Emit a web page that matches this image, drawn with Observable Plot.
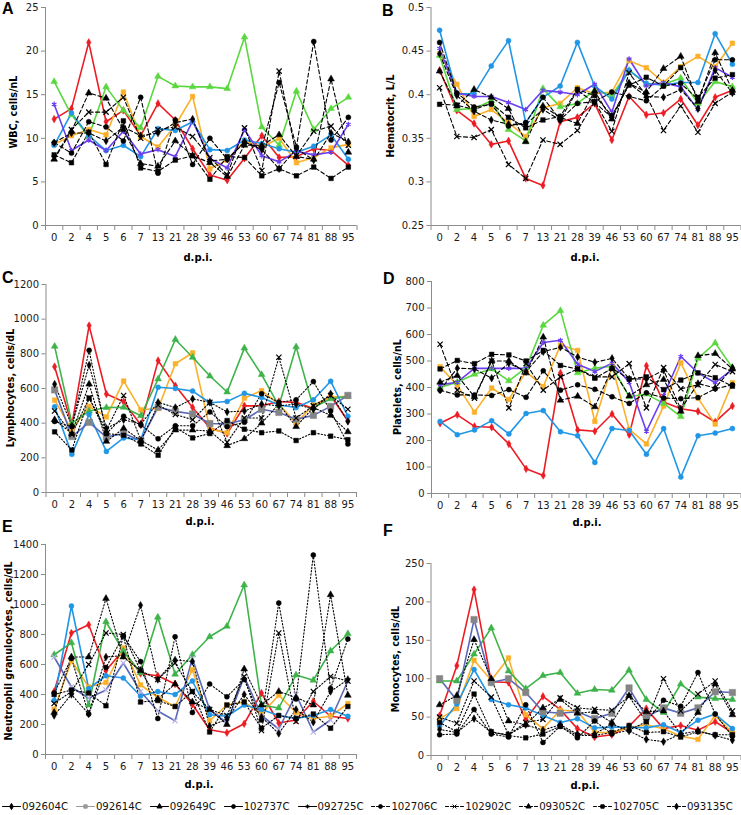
<!DOCTYPE html>
<html><head><meta charset="utf-8">
<script src="https://cdn.jsdelivr.net/npm/d3@7"></script>
<script src="https://cdn.jsdelivr.net/npm/@observablehq/plot@0.6"></script>
<style>
body{margin:0;background:#fff;}
#root{position:relative;width:741px;height:815px;overflow:hidden;background:#fff;font-family:"DejaVu Sans",Verdana,sans-serif;}
.panel{position:absolute;}
.letter{position:absolute;font:bold 16px "Liberation Sans",Arial,sans-serif;line-height:1;color:#000;}
.ytitle{position:absolute;font:bold 9.6px "DejaVu Sans",Verdana,sans-serif;white-space:nowrap;transform:translate(-50%,-50%) rotate(-90deg);color:#000;}
.xtitle{position:absolute;font:bold 10px "DejaVu Sans",Verdana,sans-serif;white-space:nowrap;transform:translate(-50%,-50%);color:#000;}
#legend{position:absolute;left:2px;width:731px;top:797px;height:18px;display:flex;justify-content:space-between;align-items:center;font:10.2px "DejaVu Sans",Verdana,sans-serif;color:#111;}
#legend .item{display:flex;align-items:center;}
</style>
</head><body>
<div id="root"></div>
<script>
// ---- categories ----
const days = ["0","2","4","5","6","7","13","21","28","39","46","53","60","67","74","81","88","95"];
const animals = ["092604C","092614C","092649C","102737C","092725C","102706C","102902C","093052C","102705C","093135C"];

// ---- A: WBC, cells/nL (rows in order of animals) ----
const wbc = [
  [12.2,13.4,21.0,11.9,13.2,10.3,14.0,12.1,8.8,5.8,5.2,7.7,10.3,7.8,7.9,8.8,8.6,6.9],
  [9.3,10.3,11.0,10.4,15.3,10.2,9.0,11.5,14.8,6.5,7.5,9.7,9.0,10.0,7.2,7.8,8.9,9.3],
  [16.5,12.7,10.2,15.9,13.2,11.2,17.1,16.0,15.9,15.9,15.7,21.6,11.3,9.2,15.4,11.0,13.4,14.7],
  [9.2,12.9,10.3,8.6,9.2,7.9,11.1,10.9,11.9,8.7,8.6,9.8,9.4,8.8,8.4,9.1,10.4,7.6],
  [13.9,8.6,9.8,8.6,10.8,8.2,8.7,7.9,12.0,7.7,6.6,11.0,8.0,7.3,8.5,8.1,8.4,11.6],
  [9.5,8.3,11.9,11.3,9.7,14.7,6.0,12.1,7.0,10.0,7.6,9.5,8.9,16.4,9.0,21.1,9.8,12.4],
  [7.7,11.0,13.0,13.0,14.7,10.0,11.0,11.3,10.2,7.8,5.8,11.2,6.3,17.7,8.0,10.8,11.4,9.2],
  [7.6,10.8,15.2,14.6,11.0,7.1,6.8,9.7,8.0,7.2,5.6,9.2,9.2,10.4,7.9,7.6,16.8,8.4],
  [8.1,7.2,10.7,7.0,12.0,6.6,6.2,7.5,8.0,5.3,7.9,7.8,5.7,6.5,5.7,6.7,5.4,6.7],
  [9.5,10.6,10.6,9.7,11.3,10.3,10.6,11.8,12.2,7.4,7.6,9.6,8.7,6.5,8.8,7.5,10.6,9.6]
];
// ---- B: Hematocrit, L/L ----
const hct = [
  [0.428,0.382,0.367,0.343,0.347,0.304,0.296,0.369,0.374,0.39,0.348,0.398,0.377,0.379,0.395,0.365,0.397,0.405],
  [0.447,0.412,0.375,0.383,0.368,0.352,0.385,0.39,0.408,0.401,0.403,0.439,0.431,0.414,0.432,0.444,0.432,0.459],
  [0.445,0.383,0.384,0.393,0.36,0.347,0.407,0.386,0.39,0.405,0.399,0.428,0.412,0.412,0.419,0.39,0.415,0.409],
  [0.474,0.401,0.401,0.433,0.462,0.368,0.397,0.41,0.46,0.41,0.395,0.428,0.413,0.411,0.414,0.414,0.47,0.435],
  [0.453,0.402,0.398,0.398,0.391,0.383,0.405,0.403,0.4,0.412,0.38,0.441,0.41,0.414,0.409,0.383,0.431,0.42],
  [0.46,0.402,0.386,0.389,0.364,0.368,0.397,0.371,0.39,0.392,0.403,0.398,0.393,0.41,0.413,0.395,0.44,0.44],
  [0.408,0.352,0.351,0.36,0.32,0.304,0.348,0.343,0.359,0.392,0.358,0.425,0.399,0.359,0.387,0.357,0.39,0.403],
  [0.427,0.387,0.406,0.397,0.384,0.346,0.387,0.374,0.367,0.404,0.372,0.413,0.403,0.43,0.444,0.392,0.448,0.405],
  [0.389,0.388,0.383,0.39,0.374,0.362,0.371,0.375,0.406,0.399,0.376,0.411,0.42,0.41,0.431,0.397,0.419,0.423],
  [0.447,0.399,0.381,0.371,0.366,0.366,0.383,0.371,0.405,0.391,0.374,0.413,0.398,0.397,0.406,0.384,0.428,0.402]
];
// ---- C: Lymphocytes, cells/dL ----
const lym = [
  [726,390,963,568,524,389,761,616,491,372,340,500,500,525,520,485,558,414],
  [533,360,497,436,643,477,485,743,806,367,345,545,588,510,400,505,550,555],
  [843,400,470,490,492,443,655,883,780,672,580,833,680,500,840,490,540,555],
  [495,220,450,237,315,305,607,600,585,518,525,572,548,505,490,535,642,440],
  [592,323,405,320,340,300,492,468,453,398,396,420,480,462,423,445,497,560],
  [410,380,820,340,440,390,310,385,385,465,380,405,570,520,535,640,470,280],
  [470,335,545,360,560,300,505,450,420,520,290,430,430,780,430,500,560,480],
  [420,340,625,295,370,300,245,360,360,355,270,310,400,510,380,490,445,350],
  [350,245,545,340,330,280,215,375,315,340,415,365,345,355,300,345,325,305],
  [625,385,735,370,420,395,520,490,540,520,465,470,510,500,510,480,570,410]
];
// ---- D: Platelets, cells/nL ----
const plt = [
  [265,297,253,250,187,93,68,455,240,235,300,222,482,345,320,310,270,330],
  [478,408,307,398,355,460,403,560,540,272,482,242,187,330,493,360,262,418],
  [400,420,450,470,425,475,635,690,455,473,480,365,375,340,290,510,568,475],
  [272,222,240,275,225,302,313,233,218,117,245,238,148,245,62,218,228,245],
  [410,420,472,472,472,472,570,578,488,460,492,420,235,370,517,455,418,468],
  [390,372,372,370,392,363,463,390,410,393,365,340,380,360,358,362,395,410],
  [563,390,360,500,323,490,390,440,470,440,440,490,323,475,395,410,487,460],
  [420,445,365,500,500,455,590,352,367,327,472,368,410,430,310,520,528,470],
  [470,502,490,525,523,500,540,483,470,435,472,432,440,392,428,455,437,405],
  [390,473,470,435,492,460,535,552,515,495,510,432,432,465,318,415,398,475]
];
// ---- E: Neutrophil granulocytes, cells/dL ----
const neu = [
  [420,810,865,560,695,540,525,470,335,165,145,205,410,210,230,355,255,240],
  [300,625,450,480,710,465,380,320,565,225,330,350,270,395,280,240,255,340],
  [665,745,330,885,690,545,915,535,665,785,855,1130,330,310,530,495,690,805],
  [360,990,440,525,510,390,420,400,490,265,255,330,300,260,240,260,300,255],
  [650,450,375,430,610,420,290,225,640,300,210,520,260,170,400,150,230,490],
  [410,640,270,580,790,620,240,785,280,470,385,500,230,1010,370,1330,440,770],
  [340,420,600,810,800,560,500,610,420,300,260,520,160,810,220,420,520,490],
  [280,650,650,1040,650,560,370,470,350,300,200,570,330,420,380,330,1065,395],
  [400,430,410,325,790,350,360,320,420,150,330,350,175,260,240,270,175,320],
  [260,400,270,650,660,995,500,630,620,190,235,400,250,140,300,215,420,500]
];
// ---- F: Monocytes, cells/dL ----
const mon = [
  [52,117,216,96,95,47,77,60,35,24,27,38,61,35,39,33,44,30],
  [48,61,124,98,127,53,35,59,58,30,30,36,40,35,25,21,52,30],
  [97,97,132,166,110,87,104,108,81,86,85,111,73,56,93,76,74,73],
  [38,67,112,73,66,62,52,43,48,36,37,37,36,40,30,46,54,35],
  [100,72,177,95,100,82,57,55,57,48,55,88,50,62,55,62,83,82],
  [27,28,60,28,24,66,17,38,23,45,28,33,44,72,64,108,54,25],
  [50,42,97,76,27,43,47,75,62,60,59,77,44,100,58,80,97,58],
  [66,78,151,100,45,40,62,73,55,57,43,78,57,58,28,56,93,53],
  [43,31,80,31,26,23,28,38,26,26,30,39,30,31,24,31,27,27],
  [34,30,48,30,27,40,33,40,28,28,41,32,21,18,28,32,26,20]
];

// ---- styling ----
const symbols = ["diamond","square","triangle","circle","asterisk","circle","times","triangle","square","diamond"];
const RED="#ec1c24", ORANGE="#fbb02a", GREEN1="#5ad83f", GREEN2="#3db34a", BLUE="#2196e6", PURPLE="#6b3ff0", SLATE="#5a68b8", GRAYSQ="#858585";
function styleSet(kind){
  const green = kind==="purple" ? GREEN1 : GREEN2;
  const dash = kind==="purple" ? "4,2.5" : "1.3,2";
  const s = [
    {line:RED, mk:RED}, {line:ORANGE, mk:ORANGE}, {line:green, mk:green}, {line:BLUE, mk:BLUE},
    kind==="purple" ? {line:PURPLE, mk:PURPLE} : kind==="gray" ? {line:SLATE, mk:GRAYSQ, sym:"square", r:3.6} : {line:SLATE, mk:"#b9b4e6", sym:"times"}
  ];
  for (let k=5;k<10;k++) s.push({line:"#000", mk:"#000", dash});
  return s;
}

const panels = [
  {data:wbc, letter:"A", title:"WBC, cells/nL", y:[0,25], ticks:d3.range(0,26,5), fmt:d=>String(d), kind:"purple",
   left:0, top:0, W:370, H:265, mt:7, mb:40, ml:45, mr:13.5, lt:[2,1], tt:[13,112], xt:[198,257]},
  {data:hct, letter:"B", title:"Hematocrit, L/L", y:[0.25,0.5], ticks:[0.25,0.3,0.35,0.4,0.45,0.5], fmt:d=>String(+d.toFixed(2)), kind:"purple",
   left:370, top:0, W:371, H:265, mt:7, mb:40, ml:60.5, mr:0.5, lt:[382,3], tt:[390,116], xt:[585,257]},
  {data:lym, letter:"C", title:"Lymphocytes, cells/dL", y:[0,1200], ticks:d3.range(0,1201,200), fmt:d=>String(d), kind:"gray",
   left:0, top:265, W:370, H:265, mt:19, mb:38, ml:45.5, mr:14, lt:[2,270], tt:[10,388], xt:[200,521]},
  {data:plt, letter:"D", title:"Platelets, cells/nL", y:[0,800], ticks:d3.range(0,801,100), fmt:d=>String(d), kind:"purple",
   left:370, top:265, W:371, H:265, mt:16, mb:37, ml:61, mr:0.5, lt:[383,271], tt:[397,387], xt:[587,522]},
  {data:neu, letter:"E", title:"Neutrophil granulocytes, cells/dL", y:[0,1400], ticks:d3.range(0,1401,200), fmt:d=>String(d), kind:"slate",
   left:0, top:530, W:370, H:270, mt:14, mb:46, ml:45, mr:14, lt:[2,519], tt:[8,651], xt:[199,784]},
  {data:mon, letter:"F", title:"Monocytes, cells/dL", y:[0,250], ticks:d3.range(0,251,50), fmt:d=>String(d), kind:"gray",
   left:370, top:530, W:371, H:270, mt:33, mb:45, ml:60.5, mr:0.5, lt:[383,523], tt:[395,659], xt:[585,785]}
];

const root = document.getElementById("root");
const xDom = [-0.5, days.length - 0.5];
const AX = "#8c8c8c";

for (const p of panels){
  const st = styleSet(p.kind);
  const marks = [];
  marks.push(Plot.axisY({ticks:p.ticks, tickSize:4, tickPadding:3, tickFormat:p.fmt, label:null, fontSize:10, stroke:AX, fill:"#1a1a1a"}));
  marks.push(Plot.axisX({ticks:d3.range(xDom[0], xDom[1]+0.01, 1), tickSize:5, tickFormat:()=>"", label:null, stroke:AX}));
  marks.push(Plot.axisX({ticks:d3.range(days.length), tickSize:0, tickPadding:8, tickFormat:i=>days[i], label:null, fontSize:10, fill:"#1a1a1a"}));
  marks.push(Plot.ruleX([xDom[0]], {stroke:AX}));
  marks.push(Plot.ruleY([p.y[0]], {stroke:AX}));
  p.data.forEach((vals, s) => {
    const rows = vals.map((v,i)=>({i, v}));
    const S = st[s];
    marks.push(Plot.line(rows, {x:"i", y:"v", stroke:S.line, strokeWidth: s<5 ? 1.6 : 1.1, strokeDasharray:S.dash}));
  });
  p.data.forEach((vals, s) => {
    const rows = vals.map((v,i)=>({i, v}));
    const S = st[s];
    const sym = S.sym || symbols[s];
    const strokeOnly = sym==="times" || sym==="asterisk" || sym==="plus";
    marks.push(Plot.dot(rows, {x:"i", y:"v", symbol:sym, r: S.r || (sym==="square" ? 2.6 : sym==="diamond" ? 2.3 : 2.5),
      fill: strokeOnly ? "none" : S.mk, stroke:S.mk, strokeWidth: strokeOnly ? 1.2 : 0.5}));
  });
  const chart = Plot.plot({
    width:p.W, height:p.H, marginTop:p.mt, marginBottom:p.mb, marginLeft:p.ml, marginRight:p.mr,
    x:{type:"linear", domain:xDom}, y:{domain:p.y},
    style:{fontFamily:"DejaVu Sans, Verdana, sans-serif", fontSize:"10px", background:"transparent", overflow:"visible"},
    marks
  });
  const wrap = document.createElement("div");
  wrap.className = "panel";
  wrap.style.left = p.left + "px"; wrap.style.top = p.top + "px";
  wrap.appendChild(chart);
  root.appendChild(wrap);

  const L = document.createElement("div"); L.className="letter"; L.textContent=p.letter;
  L.style.left=p.lt[0]+"px"; L.style.top=p.lt[1]+"px"; root.appendChild(L);
  const T = document.createElement("div"); T.className="ytitle"; T.textContent=p.title;
  T.style.left=p.tt[0]+"px"; T.style.top=p.tt[1]+"px"; root.appendChild(T);
  const X = document.createElement("div"); X.className="xtitle"; X.textContent="d.p.i.";
  X.style.left=p.xt[0]+"px"; X.style.top=p.xt[1]+"px"; root.appendChild(X);
}

// ---- legend ----
const legSym = ["diamond","square","triangle","circle","asterisk","circle","times","triangle","square","diamond"];
const legend = document.createElement("div"); legend.id="legend";
animals.forEach((a, k) => {
  const item = document.createElement("div"); item.className="item";
  const col = k===1 ? "#9a9a9a" : "#000";
  const sw = Plot.plot({
    width:18, height:12, margin:0, x:{domain:[0,2], axis:null}, y:{domain:[0,1], axis:null},
    style:{background:"transparent", overflow:"visible"},
    marks:[
      Plot.line([{x:0,y:0.5},{x:2,y:0.5}], {x:"x", y:"y", stroke:col, strokeWidth:1.1, strokeDasharray: k>=5 ? "3,2" : null}),
      Plot.dot([{x:1,y:0.5}], {x:"x", y:"y", symbol:legSym[k], r:1.9, fill:(legSym[k]==="times"||legSym[k]==="asterisk")?"none":col, stroke:col, strokeWidth:1})
    ]
  });
  sw.style.marginRight="2px";
  item.appendChild(sw);
  const t = document.createElement("span"); t.textContent=a; item.appendChild(t);
  legend.appendChild(item);
});
root.appendChild(legend);
</script>
</body></html>
